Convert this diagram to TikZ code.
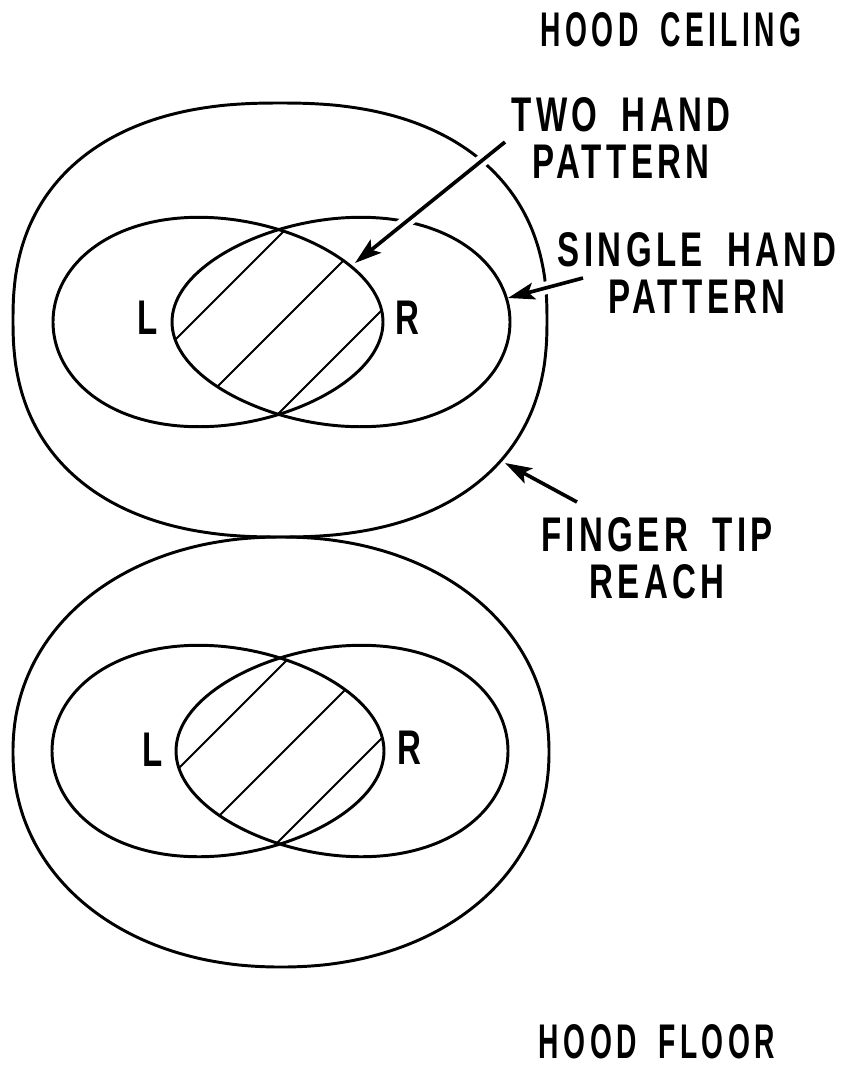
\documentclass[tikz,border=0pt]{standalone}
\usepackage{fontspec}
\newfontfamily\lblfont[FakeStretch=0.68,LetterSpace=9,WordSpace=1.8]{Liberation Sans}
\newfontfamily\hoodfont[FakeStretch=0.58,LetterSpace=9,WordSpace=1.8]{Liberation Sans}
\usetikzlibrary{arrows.meta, positioning}

% finger tip reach: superellipse, #1 cx, #2 cy, #3 a, #4 b, #5 exponent 2/n
\newcommand{\reach}[5]{plot[smooth cycle, domain=1.25:358.75, samples=144]
    ({#1+#3*sign(cos(\x))*pow(abs(cos(\x)),#5)}, {#2+#4*sign(sin(\x))*pow(abs(sin(\x)),#5)})}
% single hand pattern: egg shape, #5 narrows one end
\newcommand{\hand}[5]{plot[smooth cycle, domain=0:355, samples=72]
    ({#1+#3*cos(\x)}, {#2+#4*sin(\x)*(1-#5*cos(\x))})}

\begin{document}
\begin{tikzpicture}[x=0.025cm, y=-0.025cm, line join=round,
    >={Stealth[length=19pt,width=12pt,inset=4pt]}]
    \tikzset{
        zone/.style={line width=2.1pt},
        hatchline/.style={line width=1.4pt},
        pointer/.style={->, line width=2.6pt},
        halo/.style={draw=white, line width=9pt},
        lbl/.style={font=\lblfont\bfseries\fontsize{34.6}{33.3}\selectfont, align=center, inner sep=0pt},
        hoodlbl/.style={lbl, font=\hoodfont\bfseries\fontsize{34.6}{33.3}\selectfont}
    }
    \useasboundingbox (0,0) rectangle (852,1068);

    % Two hand pattern (hatched overlap), upper figure
    \begin{scope}
        \clip \hand{218}{322}{165}{104}{0.12};
        \clip \hand{341}{322}{169}{104}{-0.12};
        \foreach \c in {515,604,692}
            \draw[hatchline] (\c-200,200) -- (\c-450,450);
    \end{scope}

    % Two hand pattern (hatched overlap), lower figure
    \begin{scope}
        \clip \hand{218}{751}{166}{105}{0.12};
        \clip \hand{342}{751}{166}{105}{-0.12};
        \foreach \c in {947,1035,1120}
            \draw[hatchline] (\c-620,620) -- (\c-880,880);
    \end{scope}

    % Finger tip reach
    \draw[zone] \reach{280}{320}{267}{217}{0.85};
    \draw[zone] \reach{281}{752}{268}{215}{0.95};

    % Single hand patterns
    \draw[zone] \hand{218}{322}{165}{104}{0.12};
    \draw[zone] \hand{341}{322}{169}{104}{-0.12};
    \draw[zone] \hand{218}{751}{166}{105}{0.12};
    \draw[zone] \hand{342}{751}{166}{105}{-0.12};

    % Labels
    \node[hoodlbl] (ceiling) at (671,30) {HOOD CEILING};
    \node[lbl] (twohand) at (621,138) {TWO HAND\\PATTERN};
    \node[lbl] (single) at (697,273) {SINGLE HAND\\PATTERN};
    \node[lbl] (finger) at (657,558) {FINGER TIP\\REACH};
    \node[hoodlbl] (floor) at (657,1042) {HOOD FLOOR};
    \node[lbl] (lt) at (148,318) {L};
    \node[lbl] (rt) at (407,318) {R};
    \node[lbl] (lb) at (153,750) {L};
    \node[lbl] (rb) at (409,748) {R};

    % Arrow ends
    \coordinate (twotail) at (505,142);
    \coordinate (twotip) at (355,263);
    \coordinate (singletail) at (583,278);
    \coordinate (singletip) at (508,298);
    \coordinate (fingertail) at (577,502);
    \coordinate (fingertip) at (505,463);

    % Gaps where the arrows cross the curves
    \draw[halo, shorten >=40pt] (twotail) -- (twotip);
    \draw[halo, shorten >=20pt, shorten <=4pt] (singletail) -- (singletip);

    % Arrows
    \draw[pointer] (twotail) -- (twotip);
    \draw[pointer] (singletail) -- (singletip);
    \draw[pointer] (fingertail) -- (fingertip);
\end{tikzpicture}
\end{document}
